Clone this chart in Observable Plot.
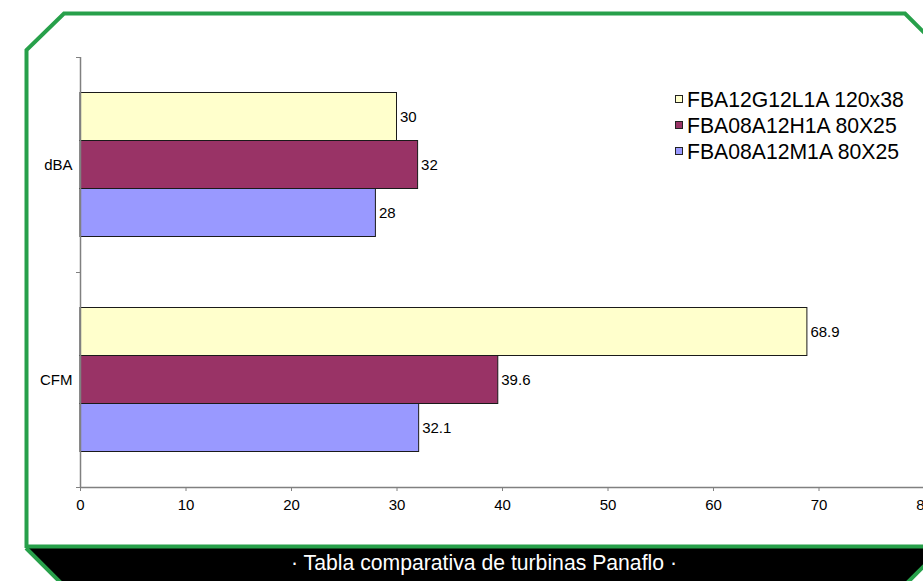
<!DOCTYPE html>
<html>
<head>
<meta charset="utf-8">
<script src="https://cdn.jsdelivr.net/npm/d3@7"></script>
<script src="https://cdn.jsdelivr.net/npm/@observablehq/plot@0.6"></script>
<style>
  html, body { margin: 0; padding: 0; background: #fff; }
  #wrap { position: relative; width: 923px; height: 581px; overflow: hidden; background: #fff;
          font-family: "Liberation Sans", Arial, sans-serif; }
  #deco { position: absolute; left: 0; top: 0; }
  #chart { position: absolute; left: 0; top: 0; width: 930px; }
  #chart svg { max-width: none !important; }
  #legend { position: absolute; left: 675px; top: 87px; font-size: 21.2px; color: #000; }
  #legend .row { height: 26px; line-height: 26px; white-space: nowrap; }
  #legend .sw { display: inline-block; width: 6px; height: 6px; border: 1px solid #222;
                margin-right: 4px; vertical-align: middle; position: relative; top: -2px; }
  #caption { position: absolute; left: 0; width: 968px; top: 551px; text-align: center;
             color: #fff; font-size: 21.2px; line-height: 24px; white-space: nowrap; }
</style>
</head>
<body>
<div id="wrap">
  <svg id="deco" width="923" height="581">
    <polygon points="26,548 942,548 890,600 78,600" fill="#000"/>
    <path d="M26.5,548 L26.5,50 L64,13.5 L905,13.5 L942,50.5" fill="none" stroke="#27a04a" stroke-width="4"/>
    <path d="M26,546.5 L923,546.5" fill="none" stroke="#27a04a" stroke-width="4"/>
    <path d="M26,548 L78,600 M942,548 L890,600" fill="none" stroke="#27a04a" stroke-width="4"/>
  </svg>
  <div id="chart"></div>
  <div id="legend"></div>
  <div id="caption"></div>
</div>
<script>
// ---- data ----
const categories = ["dBA", "CFM"];
const seriesNames = ["FBA12G12L1A 120x38", "FBA08A12H1A 80X25", "FBA08A12M1A 80X25"];
const dBAValues = [30, 32, 28];
const cfmValues = [68.9, 39.6, 32.1];
const seriesColors = ["#FFFFCC", "#993366", "#9999FF"];
const xTicks = [0, 10, 20, 30, 40, 50, 60, 70, 80];
const captionText = "· Tabla comparativa de turbinas Panaflo ·";

// ---- table ----
const valuesByCategory = [dBAValues, cfmValues];
const rows = [];
categories.forEach((c, ci) => {
  seriesNames.forEach((s, si) => {
    rows.push({category: c, ci, series: s, si, value: valuesByCategory[ci][si]});
  });
});

// grouped bars inside each category unit (linear y: category i spans [i, i+1])
const barFrac = 48 / 215;
const groupPad = (1 - seriesNames.length * barFrac) / 2;
const yTop = d => d.ci + groupPad + d.si * barFrac;
const yBot = d => d.ci + groupPad + (d.si + 1) * barFrac;
const yMid = d => d.ci + groupPad + (d.si + 0.5) * barFrac;

const axisGray = "#808080";

const chart = Plot.plot({
  width: 930,
  height: 520,
  marginLeft: 80,
  marginRight: 6,
  marginTop: 57,
  marginBottom: 33,
  style: {background: "transparent", fontFamily: "'Liberation Sans', Arial, sans-serif", fontSize: "15px", color: "#000", maxWidth: "none"},
  x: {domain: [0, 80]},
  y: {domain: [0, categories.length], reverse: true},
  color: {domain: seriesNames, range: seriesColors},
  marks: [
    Plot.rect(rows, {x1: 0, x2: "value", y1: yTop, y2: yBot, fill: "series", stroke: "#1a1a1a", strokeWidth: 1}),
    Plot.text(rows, {x: "value", y: yMid, text: d => String(d.value), textAnchor: "start", dx: 3, fontSize: 15, fill: "#000"}),
    Plot.ruleX([0], {stroke: axisGray, strokeWidth: 1.5}),
    Plot.ruleY([categories.length], {stroke: axisGray, strokeWidth: 1.5}),
    Plot.axisX({ticks: xTicks, tickSize: 4, tickPadding: 8, stroke: axisGray, fill: "#000", tickFormat: d => String(d), label: null, fontSize: 15}),
    Plot.axisY({ticks: d3.range(categories.length + 1), tickSize: 4, stroke: axisGray, tickFormat: () => "", label: null}),
    Plot.axisY({ticks: categories.map((c, i) => i + 0.5), tickSize: 0, tickPadding: 8, tickFormat: v => categories[Math.floor(v)], label: null, fill: "#000", fontSize: 15})
  ]
});
document.getElementById("chart").appendChild(chart);

// legend
const legend = document.getElementById("legend");
seriesNames.forEach((s, i) => {
  const row = document.createElement("div");
  row.className = "row";
  const sw = document.createElement("span");
  sw.className = "sw";
  sw.style.background = seriesColors[i];
  row.appendChild(sw);
  row.appendChild(document.createTextNode(s));
  legend.appendChild(row);
});
document.getElementById("caption").textContent = captionText;
</script>
</body>
</html>
